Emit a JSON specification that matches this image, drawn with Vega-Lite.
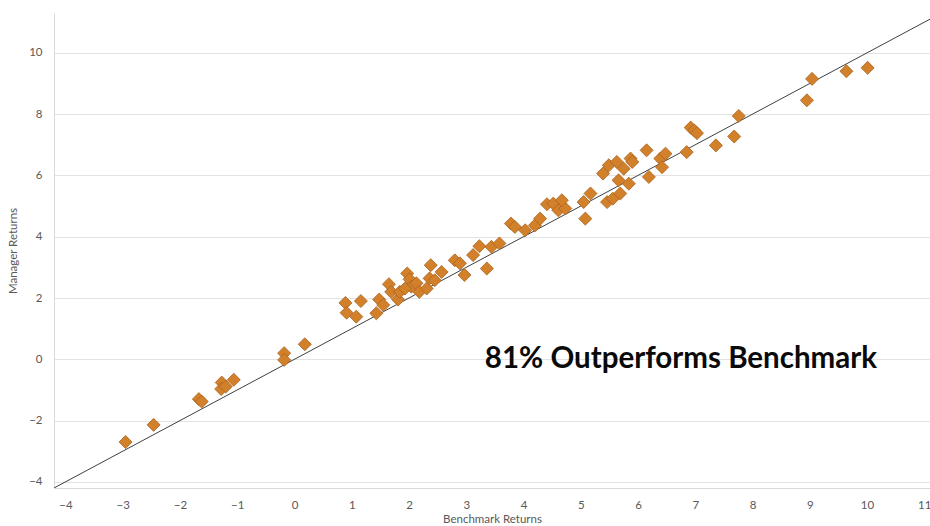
{
  "$schema": "https://vega.github.io/schema/vega-lite/v6.json",
  "width": 876,
  "height": 475,
  "autosize": {"type": "none"},
  "padding": {"left": 54, "top": 13, "right": 0, "bottom": 38},
  "background": "white",
  "config": {
    "view": {"stroke": null},
    "font": "Lato"
  },
  "datasets": {
    "points": [
      {"bench": -2.95, "mgr": -2.70}, {"bench": -2.46, "mgr": -2.14}, {"bench": -1.67, "mgr": -1.30}, {"bench": -1.62, "mgr": -1.38},
      {"bench": -1.27, "mgr": -0.76}, {"bench": -1.28, "mgr": -0.97}, {"bench": -1.20, "mgr": -0.89}, {"bench": -1.06, "mgr": -0.67},
      {"bench": -0.18, "mgr": 0.20}, {"bench": -0.18, "mgr": -0.02}, {"bench": 0.18, "mgr": 0.49},
      {"bench": 0.89, "mgr": 1.84}, {"bench": 1.16, "mgr": 1.90}, {"bench": 0.91, "mgr": 1.52}, {"bench": 1.08, "mgr": 1.39},
      {"bench": 1.43, "mgr": 1.50}, {"bench": 1.48, "mgr": 1.95}, {"bench": 1.55, "mgr": 1.77}, {"bench": 1.65, "mgr": 2.45},
      {"bench": 1.69, "mgr": 2.20}, {"bench": 1.81, "mgr": 1.95}, {"bench": 1.84, "mgr": 2.20}, {"bench": 1.97, "mgr": 2.80},
      {"bench": 2.01, "mgr": 2.61}, {"bench": 2.04, "mgr": 2.37}, {"bench": 2.13, "mgr": 2.48}, {"bench": 1.93, "mgr": 2.31},
      {"bench": 2.18, "mgr": 2.20}, {"bench": 2.31, "mgr": 2.31}, {"bench": 2.38, "mgr": 3.07}, {"bench": 2.36, "mgr": 2.64},
      {"bench": 2.45, "mgr": 2.58}, {"bench": 2.57, "mgr": 2.85}, {"bench": 2.80, "mgr": 3.23}, {"bench": 2.89, "mgr": 3.13},
      {"bench": 2.97, "mgr": 2.75}, {"bench": 3.12, "mgr": 3.40},
      {"bench": 3.23, "mgr": 3.69}, {"bench": 3.36, "mgr": 2.96}, {"bench": 3.44, "mgr": 3.67}, {"bench": 3.58, "mgr": 3.78},
      {"bench": 3.78, "mgr": 4.43}, {"bench": 3.85, "mgr": 4.32}, {"bench": 4.03, "mgr": 4.21}, {"bench": 4.20, "mgr": 4.37},
      {"bench": 4.29, "mgr": 4.59}, {"bench": 4.41, "mgr": 5.06}, {"bench": 4.52, "mgr": 5.08}, {"bench": 4.61, "mgr": 4.86},
      {"bench": 4.73, "mgr": 4.92}, {"bench": 4.67, "mgr": 5.19}, {"bench": 5.08, "mgr": 4.59}, {"bench": 5.05, "mgr": 5.13},
      {"bench": 5.17, "mgr": 5.41}, {"bench": 5.39, "mgr": 6.06}, {"bench": 5.46, "mgr": 5.13}, {"bench": 5.49, "mgr": 6.33},
      {"bench": 5.56, "mgr": 5.24}, {"bench": 5.63, "mgr": 6.44}, {"bench": 5.69, "mgr": 5.41}, {"bench": 5.66, "mgr": 5.84},
      {"bench": 5.75, "mgr": 6.22}, {"bench": 5.87, "mgr": 6.55}, {"bench": 5.90, "mgr": 6.44}, {"bench": 5.84, "mgr": 5.73},
      {"bench": 6.15, "mgr": 6.82}, {"bench": 6.19, "mgr": 5.95}, {"bench": 6.39, "mgr": 6.55}, {"bench": 6.48, "mgr": 6.71},
      {"bench": 6.42, "mgr": 6.27}, {"bench": 6.85, "mgr": 6.76},
      {"bench": 6.92, "mgr": 7.56}, {"bench": 6.98, "mgr": 7.47}, {"bench": 7.03, "mgr": 7.38},
      {"bench": 7.36, "mgr": 6.98}, {"bench": 7.68, "mgr": 7.27}, {"bench": 7.76, "mgr": 7.94}, {"bench": 8.95, "mgr": 8.45},
      {"bench": 9.04, "mgr": 9.15}, {"bench": 9.64, "mgr": 9.40}, {"bench": 10.01, "mgr": 9.51}
    ],
    "ref": [
      {"bench": -4.2, "mgr": -4.2}, {"bench": 11.1, "mgr": 11.1}
    ],
    "note": [
      {"bench": 6.75, "mgr": 0.0, "label": "81% Outperforms Benchmark"}
    ]
  },
  "encoding": {
    "x": {
      "field": "bench", "type": "quantitative",
      "scale": {"domain": [-4.2, 11.1], "nice": false, "zero": false},
      "axis": {
        "title": "Benchmark Returns",
        "values": [-4, -3, -2, -1, 0, 1, 2, 3, 4, 5, 6, 7, 8, 9, 10, 11],
        "grid": false, "ticks": false,
        "domainColor": "#d9d9d9", "domainWidth": 1,
        "labelColor": "#595959", "labelFontSize": 11.5, "labelPadding": 11,
        "titleColor": "#595959", "titleFontSize": 11.5, "titleFontWeight": "normal", "titlePadding": 3
      }
    },
    "y": {
      "field": "mgr", "type": "quantitative",
      "scale": {"domain": [-4.2, 11.3], "nice": false, "zero": false},
      "axis": {
        "title": "Manager Returns",
        "values": [-4, -2, 0, 2, 4, 6, 8, 10],
        "grid": true, "gridColor": "#e3e3e3", "gridWidth": 1,
        "ticks": false,
        "domainColor": "#d9d9d9", "domainWidth": 1,
        "labelColor": "#595959", "labelFontSize": 11.5, "labelPadding": 12,
        "titleColor": "#595959", "titleFontSize": 11.5, "titleFontWeight": "normal", "titlePadding": 10
      }
    }
  },
  "layer": [
    {
      "data": {"name": "ref"},
      "mark": {"type": "line", "color": "#404040", "strokeWidth": 1, "clip": true},
      "encoding": {}
    },
    {
      "data": {"name": "points"},
      "mark": {"type": "point", "shape": "diamond", "filled": true, "size": 170, "fill": "#d3802b", "stroke": "#a8621d", "strokeWidth": 0.8, "opacity": 1}
    },
    {
      "data": {"name": "note"},
      "mark": {"type": "text", "font": "Lato", "fontWeight": "bold", "fontSize": 29.5, "color": "#0a0a0a", "align": "center", "baseline": "middle"},
      "encoding": {"text": {"field": "label"}}
    }
  ]
}
